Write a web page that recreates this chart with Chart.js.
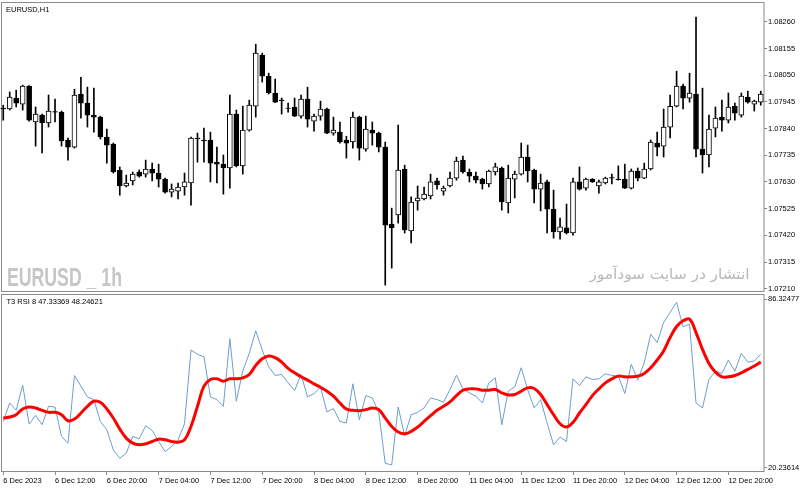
<!DOCTYPE html>
<html>
<head>
<meta charset="UTF-8">
<title>EURUSD H1 - T3 RSI</title>
<script src="https://cdn.jsdelivr.net/npm/chart.js@4.4.0/dist/chart.umd.min.js"></script>
<style>
  body { margin: 0; background: #fff; }
  #wrap { position: relative; width: 800px; height: 490px; overflow: hidden; }
  canvas { position: absolute; left: 0; }
  #priceChart { top: 0; }
  #rsiChart { top: 293px; }
  .lbl { position: absolute; font-family: "Liberation Sans", Arial, sans-serif; font-size: 7.5px; line-height: 10px; color: #000; white-space: nowrap; }
  #mark { position: absolute; left: 7px; top: 264px; font: bold 26px/26px "Liberation Sans Narrow", "Liberation Sans", Arial, sans-serif; color: #c6c6c6; white-space: nowrap; transform-origin: left top; }
  #site { position: absolute; right: 50px; top: 267px; font: 15px/15px "DejaVu Sans", sans-serif; color: #b9b9b9; white-space: nowrap; direction: rtl; transform-origin: right top; }
</style>
</head>
<body>
<div id="wrap">
  <canvas id="priceChart" width="800" height="294"></canvas>
  <canvas id="rsiChart" width="800" height="197"></canvas>
  <div class="lbl" style="left:6px; top:5px;">EURUSD,H1</div>
  <div class="lbl" style="left:6.5px; top:297px;">T3 RSI 8 47.33369 48.24621</div>
  <div id="mark">EURUSD _ 1h</div>
  <div id="site">انتشار در سایت سودآموز</div>
</div>
<script>
  // H1 bars, 6 Dec 2023 04:00 -> 13 Dec 01:00 (weekend skipped)
  const opens = [
    1.07921, 1.07917, 1.07960, 1.07936, 1.08007, 1.07866, 1.07893, 1.07862, 1.07907, 1.07905,
    1.07795, 1.07767, 1.07976, 1.07940, 1.07893, 1.07885, 1.07807, 1.07779, 1.07677, 1.07614,
    1.07634, 1.07669, 1.07661, 1.07681, 1.07665, 1.07641, 1.07590, 1.07594, 1.07610, 1.07626,
    1.07803, 1.07795, 1.07795, 1.07708, 1.07700, 1.07685, 1.07897, 1.07693, 1.07834, 1.07928,
    1.08129, 1.08046, 1.07980, 1.07952, 1.07921, 1.07925, 1.07889, 1.07956, 1.07869, 1.07889,
    1.07917, 1.07822, 1.07826, 1.07795, 1.07787, 1.07885, 1.07759, 1.07834, 1.07822, 1.07767,
    1.07464, 1.07500, 1.07681, 1.07437, 1.07555, 1.07563, 1.07575, 1.07634, 1.07594, 1.07614,
    1.07645, 1.07716, 1.07669, 1.07653, 1.07641, 1.07622, 1.07669, 1.07685, 1.07547, 1.07641,
    1.07661, 1.07728, 1.07677, 1.07602, 1.07630, 1.07523, 1.07433, 1.07449, 1.07429, 1.07630,
    1.07606, 1.07641, 1.07614, 1.07626, 1.07647, 1.07641, 1.07641, 1.07606, 1.07673, 1.07645,
    1.07681, 1.07783, 1.07771, 1.07846, 1.07928, 1.08007, 1.07960, 1.07976, 1.07759, 1.07736,
    1.07842, 1.07885, 1.07873, 1.07928, 1.07893, 1.07964, 1.07936, 1.07944
  ];
  const highs = [
    1.07932, 1.07984, 1.07991, 1.08011, 1.08009, 1.07925, 1.07897, 1.07972, 1.07956, 1.07909,
    1.07803, 1.07995, 1.08042, 1.08003, 1.07999, 1.07889, 1.07838, 1.07783, 1.07689, 1.07657,
    1.07669, 1.07677, 1.07716, 1.07704, 1.07700, 1.07645, 1.07622, 1.07626, 1.07665, 1.07807,
    1.07822, 1.07842, 1.07826, 1.07767, 1.07736, 1.07972, 1.07913, 1.07928, 1.07952, 1.08172,
    1.08137, 1.08058, 1.08035, 1.07960, 1.07940, 1.07960, 1.07972, 1.08003, 1.07897, 1.07948,
    1.07921, 1.07885, 1.07866, 1.07810, 1.07905, 1.07889, 1.07889, 1.07866, 1.07826, 1.07787,
    1.07527, 1.07854, 1.07696, 1.07571, 1.07614, 1.07610, 1.07661, 1.07645, 1.07614, 1.07669,
    1.07728, 1.07732, 1.07681, 1.07669, 1.07645, 1.07677, 1.07704, 1.07689, 1.07696, 1.07673,
    1.07783, 1.07775, 1.07681, 1.07661, 1.07637, 1.07598, 1.07488, 1.07543, 1.07645, 1.07689,
    1.07645, 1.07643, 1.07637, 1.07649, 1.07661, 1.07693, 1.07700, 1.07681, 1.07685, 1.07704,
    1.07795, 1.07826, 1.07917, 1.07972, 1.08066, 1.08015, 1.08058, 1.08279, 1.07999, 1.07893,
    1.07925, 1.07952, 1.07980, 1.07940, 1.07980, 1.07987, 1.07952, 1.07987
  ];
  const lows = [
    1.07873, 1.07913, 1.07925, 1.07913, 1.07869, 1.07771, 1.07744, 1.07846, 1.07866, 1.07771,
    1.07716, 1.07763, 1.07881, 1.07846, 1.07826, 1.07799, 1.07704, 1.07665, 1.07578, 1.07610,
    1.07618, 1.07649, 1.07649, 1.07634, 1.07610, 1.07586, 1.07571, 1.07563, 1.07578, 1.07539,
    1.07708, 1.07708, 1.07630, 1.07626, 1.07582, 1.07606, 1.07689, 1.07661, 1.07830, 1.07885,
    1.08023, 1.07976, 1.07942, 1.07897, 1.07905, 1.07887, 1.07881, 1.07846, 1.07830, 1.07873,
    1.07820, 1.07814, 1.07783, 1.07724, 1.07763, 1.07716, 1.07751, 1.07775, 1.07748, 1.07224,
    1.07291, 1.07468, 1.07429, 1.07390, 1.07519, 1.07559, 1.07563, 1.07602, 1.07578, 1.07610,
    1.07637, 1.07665, 1.07630, 1.07626, 1.07602, 1.07610, 1.07657, 1.07519, 1.07508, 1.07567,
    1.07657, 1.07630, 1.07547, 1.07516, 1.07429, 1.07409, 1.07405, 1.07425, 1.07421, 1.07598,
    1.07598, 1.07628, 1.07586, 1.07622, 1.07622, 1.07637, 1.07604, 1.07602, 1.07634, 1.07643,
    1.07677, 1.07732, 1.07728, 1.07803, 1.07925, 1.07917, 1.07944, 1.07728, 1.07665, 1.07689,
    1.07807, 1.07830, 1.07862, 1.07873, 1.07885, 1.07940, 1.07909, 1.07932
  ];
  const closes = [
    1.07917, 1.07964, 1.07940, 1.08007, 1.07873, 1.07897, 1.07862, 1.07909, 1.07905, 1.07791,
    1.07767, 1.07972, 1.07940, 1.07893, 1.07885, 1.07807, 1.07775, 1.07669, 1.07614, 1.07626,
    1.07661, 1.07653, 1.07681, 1.07665, 1.07641, 1.07590, 1.07602, 1.07610, 1.07630, 1.07803,
    1.07799, 1.07791, 1.07704, 1.07700, 1.07685, 1.07897, 1.07693, 1.07834, 1.07932, 1.08137,
    1.08046, 1.07980, 1.07944, 1.07950, 1.07919, 1.07889, 1.07956, 1.07877, 1.07889, 1.07917,
    1.07822, 1.07834, 1.07787, 1.07783, 1.07885, 1.07763, 1.07838, 1.07822, 1.07767, 1.07460,
    1.07449, 1.07677, 1.07441, 1.07551, 1.07567, 1.07582, 1.07630, 1.07618, 1.07606, 1.07645,
    1.07712, 1.07669, 1.07653, 1.07637, 1.07622, 1.07673, 1.07689, 1.07551, 1.07645, 1.07661,
    1.07728, 1.07673, 1.07602, 1.07626, 1.07523, 1.07433, 1.07453, 1.07429, 1.07630, 1.07602,
    1.07641, 1.07630, 1.07630, 1.07645, 1.07645, 1.07639, 1.07606, 1.07673, 1.07645, 1.07681,
    1.07787, 1.07767, 1.07846, 1.07928, 1.08007, 1.07960, 1.07980, 1.07759, 1.07736, 1.07838,
    1.07881, 1.07873, 1.07925, 1.07901, 1.07968, 1.07944, 1.07948, 1.07976
  ];

  // RSI(8) and its T3 smoothing
  const rsiValues = [
    39.03, 45.87, 43.14, 52.47, 38.03, 41.27, 37.78, 44.63, 44.38, 33.43,
    30.94, 56.08, 52.10, 48.12, 47.12, 39.03, 35.92, 28.45, 25.34, 27.21,
    33.43, 32.56, 37.41, 35.67, 31.56, 27.83, 29.69, 32.18, 38.16, 65.54,
    63.92, 63.05, 48.12, 47.12, 44.63, 69.77, 46.50, 57.70, 64.30, 72.63,
    65.54, 59.32, 56.08, 56.46, 53.34, 50.48, 56.46, 48.12, 49.36, 51.72,
    42.52, 43.76, 39.03, 38.41, 52.97, 39.65, 48.61, 47.74, 42.39, 23.47,
    22.85, 44.38, 33.68, 41.52, 42.39, 44.01, 47.74, 47.12, 46.12, 50.85,
    56.21, 51.10, 49.61, 48.37, 45.88, 53.34, 55.21, 37.78, 50.23, 51.85,
    58.94, 50.85, 44.01, 47.12, 38.41, 30.32, 33.18, 31.56, 54.84, 52.35,
    55.58, 54.59, 54.84, 56.70, 56.08, 55.83, 49.36, 60.19, 54.34, 60.81,
    71.39, 68.28, 75.75, 79.48, 83.21, 74.13, 75.12, 45.88, 44.01, 54.59,
    57.70, 56.83, 61.81, 57.70, 64.30, 61.06, 61.43, 63.92
  ];
  const t3Values = [
    40.27, 40.65, 41.52, 43.63, 44.38, 44.01, 43.14, 42.39, 42.39, 41.52,
    39.28, 39.90, 42.14, 44.63, 46.50, 46.12, 43.63, 40.27, 36.17, 32.81,
    30.94, 30.32, 30.69, 31.56, 32.43, 32.18, 31.56, 31.31, 32.18, 37.16,
    44.63, 52.10, 54.59, 54.84, 53.96, 54.84, 54.84, 55.21, 56.45, 59.81,
    62.30, 63.30, 62.68, 61.06, 58.69, 57.08, 55.58, 54.34, 52.97, 51.72,
    50.23, 48.37, 45.88, 43.63, 43.14, 43.01, 43.39, 44.01, 43.39, 40.27,
    37.16, 35.10, 34.43, 35.30, 36.91, 39.03, 41.14, 43.14, 44.63, 46.25,
    48.61, 50.60, 51.10, 51.10, 50.60, 50.60, 50.85, 49.61, 48.86, 48.99,
    50.23, 51.47, 51.23, 48.99, 45.25, 41.52, 38.16, 36.91, 38.66, 42.14,
    45.25, 48.61, 51.10, 53.34, 54.84, 55.83, 55.58, 55.58, 55.83, 56.83,
    58.94, 61.81, 65.17, 70.15, 74.25, 76.37, 76.99, 72.01, 65.79, 60.56,
    57.33, 55.58, 55.58, 56.08, 57.08, 58.32, 59.57, 61.06
  ];

  const priceTicks = [1.07210, 1.07315, 1.07420, 1.07525, 1.07630, 1.07735, 1.07840, 1.07945, 1.08050, 1.08155, 1.08260];
  const priceMin = 1.07197;
  const priceMax = 1.08338;
  const rsiMin = 20.23614;
  const rsiMax = 86.32477;
  const tickEvery = 8;
  const tickLabels = ['6 Dec 2023', '6 Dec 12:00', '6 Dec 20:00', '7 Dec 04:00', '7 Dec 12:00', '7 Dec 20:00',
    '8 Dec 04:00', '8 Dec 12:00', '8 Dec 20:00', '11 Dec 04:00', '11 Dec 12:00', '11 Dec 20:00',
    '12 Dec 04:00', '12 Dec 12:00', '12 Dec 20:00'];

  const barLabels = opens.map((o, i) => String(i));
  const bodies = opens.map((o, i) => [o, closes[i]]);
  const wicks = lows.map((l, i) => [l, highs[i]]);
  const bodyFill = opens.map((o, i) => closes[i] > o ? '#ffffff' : '#000000');

  const smallFont = { family: '"Liberation Sans", Arial, sans-serif', size: 7.5 };
  const frameColor = '#8a8a8a';

  // axes must not push the plot area in: the panels are fixed boxes
  function fixWidth(s) { s.width = 36; s.paddingTop = 0; s.paddingBottom = 0; }
  function fixHeight(s) { s.height = 18; s.paddingLeft = 0; s.paddingRight = 0; }

  // grey frame around each panel
  const panelFrame = {
    id: 'panelFrame',
    beforeDatasetsDraw(chart) {
      const ca = chart.chartArea;
      const ctx = chart.ctx;
      ctx.save();
      ctx.strokeStyle = frameColor;
      ctx.lineWidth = 1;
      ctx.strokeRect(Math.round(ca.left) + 1.5, Math.round(ca.top) + 0.5,
        Math.round(ca.right) - Math.round(ca.left) - 1.5, Math.round(ca.bottom) - Math.round(ca.top) - 1);
      ctx.restore();
    }
  };

  const priceChart = new Chart(document.getElementById('priceChart'), {
    type: 'bar',
    data: {
      labels: barLabels,
      datasets: [
        {
          label: 'body',
          data: bodies,
          backgroundColor: bodyFill,
          borderColor: '#000000',
          borderWidth: 1,
          borderSkipped: false,
          barThickness: 5,
          grouped: false,
          order: 1
        },
        {
          label: 'wick',
          data: wicks,
          backgroundColor: '#000000',
          borderWidth: 0,
          barThickness: 1,
          grouped: false,
          order: 2
        }
      ]
    },
    options: {
      responsive: false,
      animation: false,
      layout: { padding: { left: 0, right: 0, top: 2, bottom: 2 } },
      plugins: { legend: { display: false }, tooltip: { enabled: false } },
      scales: {
        x: { display: false, offset: true },
        y: {
          position: 'right',
          min: priceMin,
          max: priceMax,
          afterFit: fixWidth,
          afterBuildTicks: (s) => { s.ticks = priceTicks.map(v => ({ value: v })); },
          ticks: { callback: (v) => v.toFixed(5), font: smallFont, color: '#000', padding: 1 },
          grid: { drawOnChartArea: false, tickLength: 3, color: frameColor },
          border: { display: false }
        }
      }
    },
    plugins: [panelFrame]
  });

  const rsiChart = new Chart(document.getElementById('rsiChart'), {
    type: 'line',
    data: {
      labels: barLabels,
      datasets: [
        { label: 'T3', data: t3Values, borderColor: '#ff0000', borderWidth: 3, pointRadius: 0, tension: 0.4, order: 1 },
        { label: 'RSI', data: rsiValues, borderColor: '#6c9dd0', borderWidth: 1, pointRadius: 0, tension: 0, order: 2 }
      ]
    },
    options: {
      responsive: false,
      animation: false,
      layout: { padding: { left: 0, right: 0, top: 1, bottom: 0 } },
      plugins: { legend: { display: false }, tooltip: { enabled: false } },
      scales: {
        x: {
          offset: true,
          afterFit: fixHeight,
          afterBuildTicks: (s) => { s.ticks = s.ticks.filter(t => t.value % tickEvery === 0); },
          ticks: {
            autoSkip: false, maxRotation: 0, align: 'start', padding: 1,
            font: smallFont, color: '#000',
            callback: (v) => tickLabels[v / tickEvery]
          },
          grid: { offset: false, drawOnChartArea: false, tickLength: 3, color: frameColor },
          border: { display: false }
        },
        y: {
          position: 'right',
          min: rsiMin,
          max: rsiMax,
          afterFit: fixWidth,
          // MT4 prints the panel extremes just inside the frame
          afterBuildTicks: (s) => { s.ticks = [{ value: rsiMin + 1.6 }, { value: rsiMax - 1.9 }]; },
          ticks: {
            callback: (v, i) => (i === 0 ? rsiMin : rsiMax).toFixed(5),
            font: smallFont, color: '#000', padding: 1
          },
          grid: { drawOnChartArea: false, tickLength: 3, color: frameColor },
          border: { display: false }
        }
      }
    },
    plugins: [panelFrame]
  });

  // squeeze the overlay texts to the width they take in the picture
  function fitWidth(id, w) {
    const el = document.getElementById(id);
    el.style.transform = 'scaleX(' + (w / el.getBoundingClientRect().width) + ')';
  }
  fitWidth('mark', 115);
  fitWidth('site', 160);
</script>
</body>
</html>
